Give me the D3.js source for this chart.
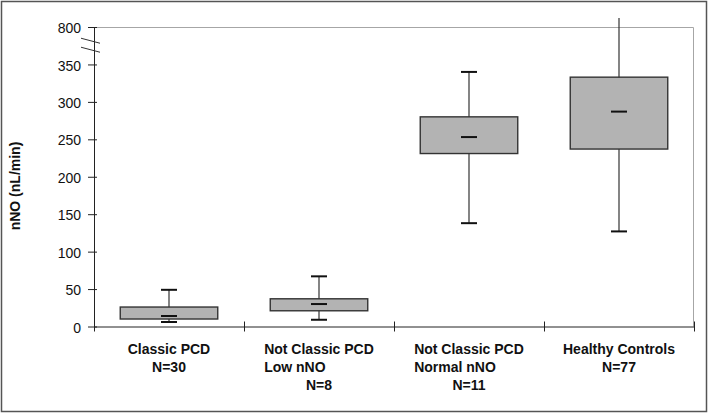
<!DOCTYPE html>
<html>
<head>
<meta charset="utf-8">
<script src="https://cdn.jsdelivr.net/npm/d3@7"></script>
<style>
  body { margin: 0; background: #fff; }
  svg { display: block; font-family: Arial, "Liberation Sans", sans-serif; }
</style>
</head>
<body>
<svg id="chart" width="709" height="414"></svg>
<script>
// groups and their label lines
var categories = ["Classic PCD", "Not Classic PCD Low", "Not Classic PCD Normal", "Healthy Controls"];
var labelLines = [
    ["Classic PCD", "N=30"],
    ["Not Classic PCD", "Low nNO", "N=8"],
    ["Not Classic PCD", "Normal nNO", "N=11"],
    ["Healthy Controls", "N=77"]
];

// box plot values (nL/min); axis is broken above 350, top shown as 800
var mins    = [6, 9, 138, 127];
var q1s     = [10, 21, 231, 237];
var medians = [14, 30, 253, 287];
var q3s     = [26, 37, 280, 333];
var maxs    = [49, 67, 340, 412];   // last whisker runs past the break

var yTicks = [0, 50, 100, 150, 200, 250, 300, 350, 400];
var yTickLabels = ["0", "50", "100", "150", "200", "250", "300", "350", "800"];
var axisTop = 400;

var svg = d3.select("#chart");

var plotLeft = 94, plotRight = 694, plotTop = 27, plotBottom = 326.5;

let y = d3.scaleLinear().domain([0, axisTop]).range([plotBottom, plotTop]);
let x = d3.scaleBand().domain(categories).range([plotLeft, plotRight])
    .paddingInner(0.35).paddingOuter(0.175);
let xEdges = d3.scaleLinear().domain([0, categories.length]).range([plotLeft, plotRight]);

// outer frame
svg.append("rect")
    .attr("x", 1.5).attr("y", 1.5).attr("width", 705).attr("height", 410)
    .attr("fill", "none").attr("stroke", "#555").attr("stroke-width", 1.5);

// plot frame (top/right)
svg.append("path")
    .attr("d", "M" + plotLeft + "," + (plotTop + 0.5) + "H" + (plotRight - 0.5) + "V" + plotBottom)
    .attr("fill", "none").attr("stroke", "#a6a6a6").attr("stroke-width", 1);

// y axis
let yAxis = d3.axisLeft(y).tickValues(yTicks)
    .tickFormat((d, i) => yTickLabels[i])
    .tickSizeOuter(0);
let gy = svg.append("g").attr("transform", "translate(" + plotLeft + ",0)").call(yAxis);
gy.select(".domain").attr("stroke", "#222");
gy.selectAll(".tick line").attr("x1", -6).attr("x2", 3).attr("stroke", "#222");
gy.selectAll(".tick text")
    .attr("x", -13).attr("dy", "0.4em")
    .style("font-size", "14px").style("font-family", "Arial, 'Liberation Sans', sans-serif")
    .attr("fill", "#111");

// axis break marks
let yb = y(375);
[-5, 4].forEach(off => {
    svg.append("line")
        .attr("x1", plotLeft - 13).attr("y1", yb + off - 2.5)
        .attr("x2", plotLeft + 6).attr("y2", yb + off + 2.5)
        .attr("stroke", "#333").attr("stroke-width", 1);
});

// x axis with ticks on the group edges
let xAxis = d3.axisBottom(xEdges).tickValues(d3.range(categories.length + 1))
    .tickFormat("").tickSizeOuter(0);
let gx = svg.append("g").attr("transform", "translate(0," + plotBottom + ")").call(xAxis);
gx.select(".domain").attr("stroke", "#222");
gx.selectAll(".tick line").attr("y1", -5).attr("y2", 5).attr("stroke", "#222");

// y title
svg.append("text")
    .attr("transform", "translate(20,186) rotate(-90)")
    .attr("text-anchor", "middle")
    .style("font-size", "14px").style("font-weight", "bold")
    .attr("fill", "#111")
    .text("nNO (nL/min)");

// boxes
let groups = svg.selectAll("g.box")
    .data(categories)
    .enter().append("g")
    .attr("class", "box");

groups.append("line")
    .attr("x1", d => x(d) + x.bandwidth() / 2)
    .attr("x2", d => x(d) + x.bandwidth() / 2)
    .attr("y1", (d, i) => y(mins[i]))
    .attr("y2", (d, i) => y(maxs[i]))
    .attr("stroke", "#333").attr("stroke-width", 1.2);

groups.append("rect")
    .attr("x", d => x(d))
    .attr("width", x.bandwidth())
    .attr("y", (d, i) => y(q3s[i]))
    .attr("height", (d, i) => y(q1s[i]) - y(q3s[i]))
    .attr("fill", "#b3b3b3").attr("stroke", "#333").attr("stroke-width", 1.4);

let capW = 16;
let caps = [];
categories.forEach((c, i) => {
    caps.push({ c: c, v: mins[i] });
    if (maxs[i] <= axisTop) caps.push({ c: c, v: maxs[i] });
    caps.push({ c: c, v: medians[i] });
});
svg.selectAll("line.cap")
    .data(caps)
    .enter().append("line")
    .attr("class", "cap")
    .attr("x1", d => x(d.c) + x.bandwidth() / 2 - capW / 2)
    .attr("x2", d => x(d.c) + x.bandwidth() / 2 + capW / 2)
    .attr("y1", d => y(d.v))
    .attr("y2", d => y(d.v))
    .attr("stroke", "#111").attr("stroke-width", 2);

// category labels
let lineY = [354, 372, 390];
categories.forEach((c, i) => {
    let cx = x(c) + x.bandwidth() / 2;
    let lines = labelLines[i];
    let first = svg.append("text")
        .attr("x", cx).attr("y", lineY[0])
        .attr("text-anchor", "middle")
        .style("font-size", "14px").style("font-weight", "bold")
        .attr("fill", "#111")
        .text(lines[0]);
    let firstStart = cx - first.node().getComputedTextLength() / 2;
    lines.slice(1).forEach((t, j) => {
        let middleLine = lines.length === 3 && j === 0;
        svg.append("text")
            .attr("x", middleLine ? firstStart : cx)
            .attr("y", lineY[j + 1])
            .attr("text-anchor", middleLine ? "start" : "middle")
            .style("font-size", "14px").style("font-weight", "bold")
            .attr("fill", "#111")
            .text(t);
    });
});
</script>
</body>
</html>
